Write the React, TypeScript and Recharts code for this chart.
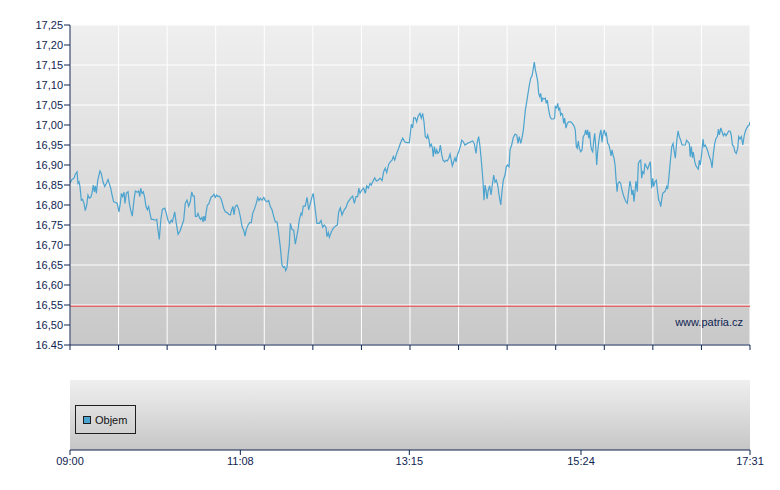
import React from "react";
import { CartesianGrid, Line, LineChart, ReferenceLine, XAxis, YAxis } from "recharts";

// Intraday price, [minutes after 09:00, price] in blocks.
const open: [number, number][] = [
  [0, 16.855], [1.5, 16.864], [3, 16.867], [4, 16.877], [5.3, 16.883], [6, 16.854], [6.8, 16.858],
  [7.5, 16.846], [8.5, 16.812], [9.5, 16.814], [10.5, 16.804], [11.5, 16.786], [12.6, 16.8],
  [13.5, 16.825], [14.5, 16.817], [15.6, 16.819], [16.5, 16.829], [17.5, 16.85], [18.3, 16.833],
  [19, 16.848], [19.8, 16.829], [20.8, 16.861], [21.8, 16.875], [22.5, 16.885], [23.5, 16.879],
  [24.8, 16.858], [26.1, 16.846], [27.3, 16.854], [28.6, 16.864], [29.5, 16.854], [30.6, 16.842],
  [31.6, 16.825], [32.8, 16.808], [34, 16.807], [35.5, 16.804], [36.8, 16.783], [37.8, 16.804],
  [38.6, 16.829], [39.6, 16.821], [40.6, 16.832], [41.3, 16.804], [42.3, 16.829], [43.6, 16.833],
  [44.6, 16.804], [45.6, 16.788], [46.8, 16.772], [48.1, 16.812], [49.1, 16.835], [50.4, 16.832],
  [51.6, 16.835], [52.4, 16.821], [53.1, 16.842], [54.1, 16.829], [55.1, 16.833], [56.1, 16.819],
  [57.1, 16.796], [58.1, 16.788], [59.1, 16.796], [60.1, 16.779], [61.1, 16.764], [62.6, 16.764],
  [64.1, 16.762], [65.2, 16.764], [66.1, 16.738], [67.1, 16.714], [68.2, 16.762], [69.4, 16.789],
  [71.2, 16.792], [72.4, 16.779], [73.6, 16.762], [74.9, 16.754], [76.1, 16.762], [76.9, 16.758],
  [77.6, 16.767], [78.7, 16.783], [79.7, 16.758], [81.2, 16.727], [82.7, 16.735], [84.2, 16.75],
  [85.4, 16.761],
];

const lateMorning: [number, number][] = [
  [86.6, 16.804], [87.9, 16.812], [89.2, 16.797], [90.4, 16.808], [91.5, 16.833], [92.4, 16.822],
  [93.4, 16.822], [94.2, 16.772], [95.2, 16.771], [96.2, 16.779], [97.2, 16.769], [98.2, 16.764],
  [99.2, 16.769], [99.9, 16.758], [100.7, 16.772], [101.5, 16.76], [102.2, 16.779], [103.2, 16.8],
  [104.2, 16.802], [105.2, 16.812], [106.2, 16.821], [107.2, 16.822], [108.2, 16.827], [109.2, 16.819],
  [110.2, 16.825], [111.2, 16.821], [112.2, 16.822], [113.3, 16.817], [114.2, 16.808], [115.5, 16.792],
  [116.7, 16.783], [118, 16.781], [119.3, 16.777], [120.5, 16.775], [121.5, 16.788], [122.5, 16.796],
  [123.2, 16.775], [124.2, 16.796], [125.5, 16.8], [126.8, 16.789], [128, 16.771], [129.3, 16.746],
  [130.5, 16.737], [131.5, 16.722], [132.5, 16.739], [133.8, 16.75], [135, 16.756], [136.2, 16.756],
  [137.3, 16.779], [138.5, 16.789], [139.8, 16.802], [141.1, 16.819], [142, 16.811], [143, 16.817],
  [144.3, 16.812], [145.6, 16.819], [146.8, 16.811], [148, 16.808], [149.3, 16.811], [150.5, 16.796],
  [151.8, 16.788], [153.1, 16.771], [154.3, 16.758], [155.6, 16.758], [156.8, 16.729], [158, 16.696],
  [159.3, 16.65], [160.3, 16.644], [161.3, 16.646], [162.1, 16.636], [163.1, 16.644], [163.8, 16.671],
  [164.8, 16.7], [165.6, 16.754], [166.8, 16.739], [168.1, 16.737], [169.3, 16.702], [170.6, 16.725],
  [171.3, 16.737],
];

const midday: [number, number][] = [
  [172.3, 16.762], [173.6, 16.779], [174.3, 16.775], [175.3, 16.797], [176.8, 16.797], [178.1, 16.819],
  [179.4, 16.788], [180.6, 16.804], [181.9, 16.821], [182.8, 16.829], [184.3, 16.788], [185.6, 16.754],
  [187.3, 16.754], [188.6, 16.761], [189.9, 16.744], [191.1, 16.75], [192.4, 16.744], [193.1, 16.721],
  [194.1, 16.731], [194.9, 16.719], [196.4, 16.733], [197.9, 16.742], [199.4, 16.747], [200.9, 16.75],
  [201.9, 16.783], [203.1, 16.793], [204.4, 16.775], [206.1, 16.788], [207.4, 16.794], [208.7, 16.806],
  [209.9, 16.812], [211.4, 16.819], [212.4, 16.822], [213.7, 16.804], [214.9, 16.821], [216.2, 16.821],
  [217, 16.842], [217.9, 16.829], [219.4, 16.838], [220.7, 16.842], [221.9, 16.829], [223, 16.848],
  [224.2, 16.842], [225.5, 16.854], [226.4, 16.85], [227.5, 16.858], [229, 16.868], [230.2, 16.86],
  [231.5, 16.862], [233, 16.867], [234.5, 16.861], [235.7, 16.883], [236.9, 16.892], [238, 16.881],
  [239.5, 16.902], [240.7, 16.908], [242, 16.912], [243, 16.921], [244, 16.912], [245.5, 16.929],
  [247, 16.942], [248.5, 16.956], [250, 16.967], [251.5, 16.958], [253, 16.956], [255, 16.956],
];

const earlyAfternoon: [number, number][] = [
  [256.5, 17.002], [257.5, 16.993], [258.3, 17.018], [259.5, 17.018], [260.5, 17.008], [261.7, 17.023],
  [263, 17.029], [264, 17.017], [265, 17.029], [266, 17.008], [267, 16.971], [268.1, 16.967],
  [268.8, 16.975], [269.8, 16.962], [270.5, 16.946], [271.5, 16.952], [272.3, 16.943], [273, 16.921],
  [273.8, 16.946], [274.8, 16.927], [275.6, 16.938], [276.5, 16.929], [277.5, 16.933], [278.3, 16.95],
  [279.3, 16.927], [280.3, 16.912], [281.6, 16.908], [282.6, 16.912], [283.5, 16.91], [284.6, 16.917],
  [285.6, 16.927], [286.5, 16.912], [287.3, 16.898], [288.3, 16.908], [289.3, 16.918], [290.1, 16.908],
  [291.1, 16.925], [292.3, 16.935], [293.6, 16.95], [294.4, 16.962], [295.6, 16.958], [296.8, 16.95],
  [298.6, 16.954], [300.6, 16.957], [302.6, 16.96], [303.8, 16.954], [305.1, 16.929], [306.1, 16.958],
  [307.1, 16.971], [308.1, 16.946], [309.4, 16.9], [310.4, 16.858], [311.1, 16.812], [311.9, 16.85],
  [312.6, 16.837], [313.4, 16.815], [314.3, 16.837], [315.4, 16.848], [316.4, 16.825], [317.4, 16.852],
  [318.4, 16.875], [319.4, 16.857], [320.4, 16.862], [321.4, 16.85], [322.4, 16.825], [323.7, 16.8],
  [324.6, 16.833], [325.6, 16.862], [326.9, 16.875], [327.9, 16.896], [328.9, 16.9], [329.9, 16.896],
  [330.7, 16.938], [331.9, 16.95], [333.1, 16.968], [334.4, 16.977], [335.7, 16.975], [336.7, 16.954],
  [337.6, 16.971], [338.7, 16.954], [339.7, 16.968], [340.7, 16.988],
];

const lateAfternoon: [number, number][] = [
  [342.2, 17.038], [343.2, 17.058], [344.2, 17.079], [345.2, 17.1], [346.2, 17.117], [347.2, 17.123],
  [348.2, 17.142], [348.9, 17.157], [349.7, 17.138], [350.7, 17.123], [351.5, 17.108], [352.2, 17.079],
  [353, 17.071], [353.7, 17.079], [354.5, 17.058], [355.2, 17.067], [356.2, 17.065], [357.2, 17.067],
  [357.9, 17.054], [358.7, 17.062], [359.7, 17.038], [360.7, 17.021], [361.7, 17.015], [363.2, 17.015],
  [364.2, 17.017], [364.7, 17.046], [365.7, 17.043], [366.5, 17.054], [367.2, 17.038], [368, 17.042],
  [368.7, 17.025], [369.5, 17.029], [370.2, 17.025], [371, 17.004], [371.7, 17.017], [372.7, 16.992],
  [373.7, 17.004], [374.8, 17.008], [376.3, 17.008], [377.5, 17.004], [378.7, 16.998], [379.7, 16.988],
  [380.5, 16.946], [381.2, 16.942], [382, 16.96], [382.7, 16.942], [383.8, 16.933], [384.8, 16.938],
  [385.7, 16.971], [386.8, 16.977], [387.5, 16.988], [388.3, 16.975], [389, 16.988], [389.8, 16.967],
  [390.5, 16.983], [391.3, 16.95], [392, 16.938], [392.8, 16.933], [393.5, 16.958], [394.3, 16.979],
  [395, 16.95], [395.8, 16.9], [396.5, 16.933], [397.5, 16.962], [398.3, 16.979], [399, 16.988],
  [399.8, 16.957], [400.5, 16.977], [401.5, 16.988], [402.3, 16.975], [403, 16.979], [404.1, 16.954],
  [405, 16.95], [405.8, 16.938], [406.6, 16.923], [407.3, 16.938], [408.1, 16.925], [408.8, 16.917],
  [409.6, 16.9], [410.3, 16.867], [411.1, 16.833], [411.8, 16.854], [412.8, 16.858], [413.8, 16.854],
  [414.8, 16.838], [415.8, 16.825], [416.9, 16.815], [417.8, 16.808], [418.8, 16.804], [419.8, 16.833],
  [420.8, 16.86], [421.6, 16.846], [422.3, 16.825], [423.1, 16.838], [423.8, 16.808], [424.6, 16.833],
  [425.3, 16.86], [426.3, 16.833], [427.1, 16.904], [428.1, 16.91],
];

const close: [number, number][] = [
  [428.9, 16.912], [429.6, 16.867], [430.4, 16.883], [431.3, 16.879], [432.1, 16.904], [433.1, 16.896],
  [434.1, 16.89], [435.1, 16.9], [436.1, 16.908], [437.1, 16.842], [437.9, 16.867], [438.6, 16.846],
  [439.6, 16.858], [440.6, 16.862], [441.4, 16.838], [442.4, 16.812], [443.1, 16.808], [443.9, 16.796],
  [444.6, 16.812], [445.4, 16.829], [446.4, 16.832], [447.4, 16.835], [448.4, 16.846], [449.1, 16.84],
  [450.1, 16.871], [451.1, 16.908], [452.2, 16.946], [453.2, 16.954], [453.9, 16.938], [454.9, 16.917],
  [455.9, 16.958], [456.9, 16.985], [457.9, 16.971], [458.9, 16.962], [459.9, 16.95], [461.4, 16.95],
  [462.4, 16.95], [463.4, 16.962], [464.4, 16.958], [465.4, 16.954], [466.1, 16.921], [466.9, 16.946],
  [467.7, 16.918], [468.4, 16.932], [469.5, 16.908], [470.4, 16.898], [471.4, 16.893], [472.2, 16.89],
  [472.9, 16.912], [473.7, 16.9], [474.7, 16.929], [475.7, 16.965], [476.4, 16.946], [477.4, 16.95],
  [478.5, 16.942], [479.5, 16.932], [480.4, 16.921], [481.5, 16.912], [482.5, 16.893], [483.5, 16.929],
  [484.5, 16.954], [485.5, 16.967], [486.5, 16.971], [487.3, 16.99], [488, 16.975], [489.1, 16.993],
  [490, 16.983], [491, 16.973], [492, 16.979], [493, 16.973], [494, 16.979], [495, 16.985],
  [496, 16.985], [496.8, 16.977], [497.8, 16.95], [498.8, 16.946], [499.7, 16.933], [500.7, 16.929],
  [501.8, 16.942], [502.5, 16.971], [503.5, 16.965], [504.5, 16.971], [505.6, 16.95], [506.6, 16.973],
  [507.6, 16.985], [508.6, 16.993], [509.6, 16.998], [510.5, 17.0], [511, 17.008],
];

const referencePrice = 16.547;

const yTicks = [16.45, 16.5, 16.55, 16.6, 16.65, 16.7, 16.75, 16.8, 16.85, 16.9, 16.95, 17.0, 17.05, 17.1, 17.15, 17.2, 17.25];
const yTickLabels = ["16.45", "16,50", "16,55", "16,60", "16,65", "16,70", "16,75", "16,80", "16,85", "16,90", "16,95", "17,00", "17,05", "17,10", "17,15", "17,20", "17,25"];

// 14 equal steps across the session (09:00 - 17:31 = 511 min)
const gridMinutes = [0, 36.5, 73, 109.5, 146, 182.5, 219, 255.5, 292, 328.5, 365, 401.5, 438, 474.5, 511];
const timeTicks = [0, 128, 255, 384, 511];
const timeLabels = ["09:00", "11:08", "13:15", "15:24", "17:31"];

const NAVY = "#0f2452";
const LINE = "#4ba3cf";
const FONT = '"Liberation Sans", Arial, sans-serif';

const rows = [...open, ...lateMorning, ...midday, ...earlyAfternoon, ...lateAfternoon, ...close].map(
  ([m, price]) => ({ m, price, objem: null as number | null })
);

export default function App() {
  return (
    <div style={{ position: "absolute", left: 0, top: 0, width: 780, height: 490, background: "#fff", fontFamily: FONT }}>
      <LineChart width={780} height={355} data={rows} margin={{ top: 25, right: 30, bottom: 0, left: 0 }}>
        <defs>
          <linearGradient id="priceBg" x1="0" y1="0" x2="0" y2="1">
            <stop offset="0%" stopColor="#efefef" />
            <stop offset="100%" stopColor="#c8c8c8" />
          </linearGradient>
        </defs>
        <CartesianGrid stroke="#ffffff" strokeWidth={1} fill="url(#priceBg)" fillOpacity={1} />
        <XAxis
          dataKey="m"
          type="number"
          domain={[0, 511]}
          ticks={gridMinutes}
          tickFormatter={() => ""}
          height={10}
          tickSize={5}
          stroke={NAVY}
          allowDataOverflow
        />
        <YAxis
          domain={[16.45, 17.25]}
          ticks={yTicks}
          tickFormatter={(_v: number, i: number) => yTickLabels[i]}
          width={70}
          tickSize={6}
          tickMargin={1}
          stroke={NAVY}
          tick={{ fill: NAVY, fontSize: 11, fontFamily: FONT }}
          allowDataOverflow
        />
        <ReferenceLine y={referencePrice} stroke="#e6393b" strokeWidth={1} />
        <Line type="linear" dataKey="price" stroke={LINE} strokeWidth={1.2} dot={false} isAnimationActive={false} />
      </LineChart>

      <div style={{ position: "absolute", left: 0, top: 355 }}>
        <LineChart width={780} height={120} data={rows} margin={{ top: 25, right: 30, bottom: 0, left: 70 }}>
          <defs>
            <linearGradient id="volBg" x1="0" y1="0" x2="0" y2="1">
              <stop offset="0%" stopColor="#efefef" />
              <stop offset="100%" stopColor="#c6c6c6" />
            </linearGradient>
          </defs>
          <CartesianGrid horizontal={false} vertical={false} fill="url(#volBg)" fillOpacity={1} />
          <XAxis
            dataKey="m"
            type="number"
            domain={[0, 511]}
            ticks={timeTicks}
            tickFormatter={(_v: number, i: number) => timeLabels[i]}
            height={25}
            tickSize={5}
            stroke={NAVY}
            tick={{ fill: NAVY, fontSize: 11, fontFamily: FONT }}
            interval={0}
            allowDataOverflow
          />
          <YAxis hide domain={[0, 1]} />
          {timeTicks.slice(1, -1).map((t) => (
            <ReferenceLine key={t} x={t} stroke="#ffffff" strokeWidth={1} />
          ))}
          <Line type="linear" dataKey="objem" stroke={LINE} dot={false} isAnimationActive={false} />
        </LineChart>
      </div>

      <div
        style={{
          position: "absolute",
          left: 75,
          top: 405,
          width: 61,
          height: 29,
          boxSizing: "border-box",
          border: "1px solid #1e1e1e",
          display: "flex",
          alignItems: "center",
          paddingLeft: 7,
          fontSize: 11,
          color: "#111",
        }}
      >
        <span style={{ width: 8, height: 8, boxSizing: "border-box", border: "1px solid #1e1e1e", background: LINE, marginRight: 4 }} />
        Objem
      </div>

      <div style={{ position: "absolute", left: 600, width: 143, top: 316, textAlign: "right", fontSize: 11, lineHeight: "13px", color: NAVY }}>
        www.patria.cz
      </div>
    </div>
  );
}
